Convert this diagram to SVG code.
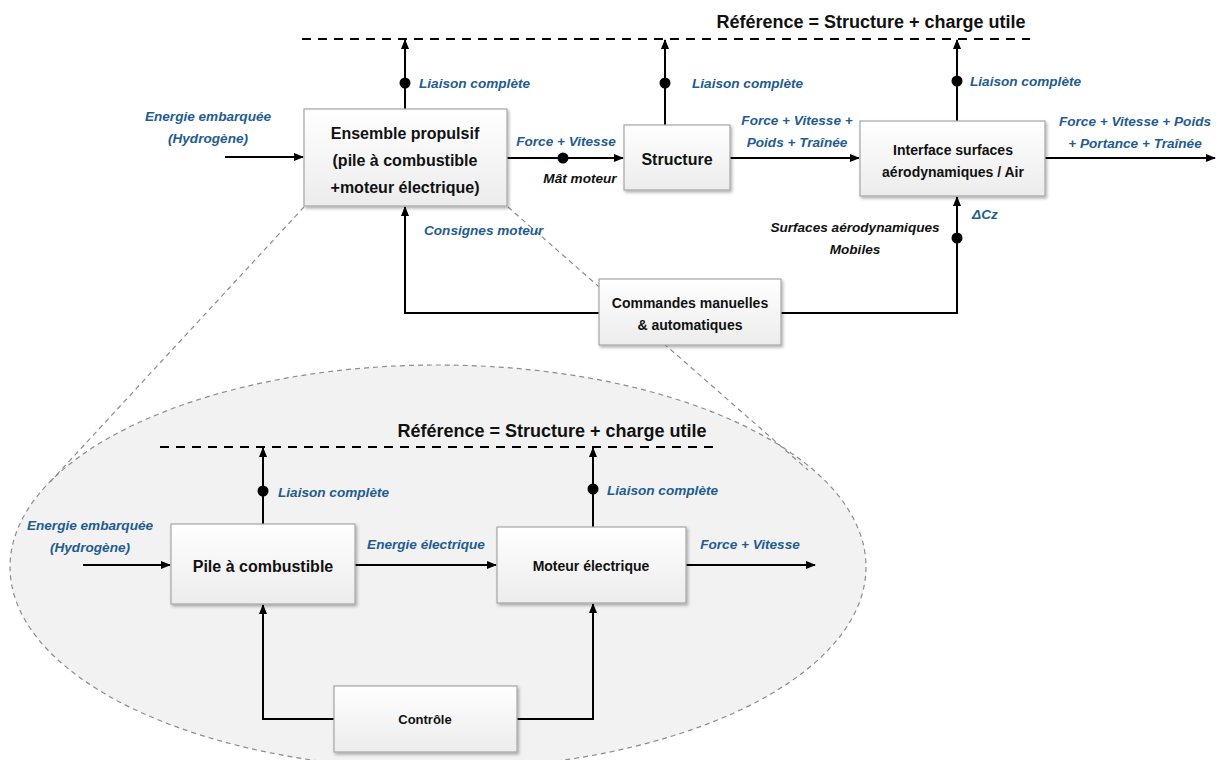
<svg xmlns="http://www.w3.org/2000/svg" width="1220" height="760" viewBox="0 0 1220 760">
<style>
.box{fill:url(#g);stroke:#a6a6a6;stroke-width:1.2;filter:url(#sh)}
.bt{font-family:"Liberation Sans",Arial,sans-serif;font-weight:bold;fill:#111;text-anchor:middle}
.lb{font-family:"Liberation Sans",Arial,sans-serif;font-weight:bold;font-style:italic;font-size:13.6px;fill:#1f5c8f}
.lk{font-family:"Liberation Sans",Arial,sans-serif;font-weight:bold;font-style:italic;font-size:13.6px;fill:#111}
.ti{font-family:"Liberation Sans",Arial,sans-serif;font-weight:bold;font-size:18px;fill:#111}
.ln{fill:none;stroke:#000;stroke-width:2}
.ar{fill:none;stroke:#000;stroke-width:2;marker-end:url(#ah)}
.dl{fill:none;stroke:#000;stroke-width:2.2;stroke-dasharray:9 7}
.zl{fill:none;stroke:#8c8c8c;stroke-width:1.2;stroke-dasharray:5 4}
.dot{fill:#000}
</style>
<defs>
<linearGradient id="g" x1="0" y1="0" x2="0" y2="1"><stop offset="0" stop-color="#ffffff"/><stop offset="1" stop-color="#ececec"/></linearGradient>
<filter id="sh" x="-10%" y="-10%" width="125%" height="130%"><feDropShadow dx="1.5" dy="2" stdDeviation="1.5" flood-color="#000" flood-opacity="0.3"/></filter>
<marker id="ah" markerWidth="10" markerHeight="10" refX="9" refY="5" orient="auto" markerUnits="userSpaceOnUse"><path d="M0,1 L10,5 L0,9 z" fill="#000"/></marker>
</defs>
<rect width="1220" height="760" fill="#fff"/>
<g id="zoom-area">
<ellipse cx="438" cy="567" rx="428" ry="202" fill="#f2f2f2" stroke="#8c8c8c" stroke-width="1.2" stroke-dasharray="5 4"/>
<path class="zl" d="M304,207 L50,482"/>
<path class="zl" d="M508,207 L808,470"/>
</g>
<g id="references">
<path class="dl" d="M302,39 L1030,39"/>
<text class="ti" x="871" y="28" text-anchor="middle">Référence = Structure + charge utile</text>
<path class="dl" d="M160,447 L718,447"/>
<text class="ti" x="552" y="437" text-anchor="middle">Référence = Structure + charge utile</text>
</g>
<g id="connectors">
<path class="ar" d="M405,109 L405,40"/>
<circle class="dot" cx="405" cy="83" r="5.5"/>
<path class="ar" d="M665,125 L665,40"/>
<circle class="dot" cx="665" cy="83" r="5.5"/>
<path class="ar" d="M957,121 L957,40"/>
<circle class="dot" cx="957" cy="81" r="5.5"/>
<path class="ar" d="M225,157 L303,157"/>
<path class="ar" d="M507,158 L623,158"/>
<circle class="dot" cx="563" cy="158" r="5.5"/>
<path class="ar" d="M730,158 L859,158"/>
<path class="ar" d="M1045,158 L1215,158"/>
<path class="ar" d="M599,313 L405,313 L405,207"/>
<path class="ar" d="M781,313 L957,313 L957,197"/>
<circle class="dot" cx="957" cy="238" r="5.5"/>
<path class="ar" d="M263,524 L263,448"/>
<circle class="dot" cx="263" cy="491" r="5.5"/>
<path class="ar" d="M593,527 L593,448"/>
<circle class="dot" cx="593" cy="489" r="5.5"/>
<path class="ar" d="M83,565 L170,565"/>
<path class="ar" d="M355,565 L496,565"/>
<path class="ar" d="M686,565 L815,565"/>
<path class="ar" d="M334,719 L263,719 L263,605"/>
<path class="ar" d="M517,719 L593,719 L593,604"/>
</g>
<g id="labels">
<text class="lb" x="419" y="88">Liaison complète</text>
<text class="lb" x="692" y="88">Liaison complète</text>
<text class="lb" x="970" y="86">Liaison complète</text>
<text class="lb" x="208" y="121" text-anchor="middle">Energie embarquée</text>
<text class="lb" x="208" y="143" text-anchor="middle">(Hydrogène)</text>
<text class="lb" x="566" y="146" text-anchor="middle">Force + Vitesse</text>
<text class="lk" x="580" y="183" text-anchor="middle">Mât moteur</text>
<text class="lb" x="797" y="125" text-anchor="middle">Force + Vitesse +</text>
<text class="lb" x="797" y="147" text-anchor="middle">Poids + Traînée</text>
<text class="lb" x="1135" y="126" text-anchor="middle">Force + Vitesse + Poids</text>
<text class="lb" x="1135" y="148" text-anchor="middle">+ Portance + Traînée</text>
<text class="lb" x="424" y="235">Consignes moteur</text>
<text class="lb" x="972" y="219">ΔCz</text>
<text class="lk" x="855" y="232" text-anchor="middle">Surfaces aérodynamiques</text>
<text class="lk" x="855" y="254" text-anchor="middle">Mobiles</text>
<text class="lb" x="278" y="497">Liaison complète</text>
<text class="lb" x="607" y="495">Liaison complète</text>
<text class="lb" x="90" y="530" text-anchor="middle">Energie embarquée</text>
<text class="lb" x="90" y="552" text-anchor="middle">(Hydrogène)</text>
<text class="lb" x="426" y="549" text-anchor="middle">Energie électrique</text>
<text class="lb" x="750" y="549" text-anchor="middle">Force + Vitesse</text>
</g>
<g id="ensemble-propulsif">
<rect class="box" x="304" y="109" width="203" height="97"/>
<text class="bt" font-size="16" x="405" y="139">Ensemble propulsif</text>
<text class="bt" font-size="16" x="405" y="166">(pile à combustible</text>
<text class="bt" font-size="16" x="405" y="193">+moteur électrique)</text>
</g>
<g id="structure">
<rect class="box" x="624" y="125" width="106" height="65"/>
<text class="bt" font-size="16" x="677" y="165">Structure</text>
</g>
<g id="interface">
<rect class="box" x="860" y="121" width="185" height="75"/>
<text class="bt" font-size="14" x="953" y="155">Interface surfaces</text>
<text class="bt" font-size="14" x="953" y="177">aérodynamiques / Air</text>
</g>
<g id="commandes">
<rect class="box" x="599" y="279" width="182" height="66"/>
<text class="bt" font-size="14" x="690" y="308">Commandes manuelles</text>
<text class="bt" font-size="14" x="690" y="330">&amp; automatiques</text>
</g>
<g id="pile">
<rect class="box" x="171" y="524" width="184" height="80"/>
<text class="bt" font-size="16" x="263" y="572">Pile à combustible</text>
</g>
<g id="moteur">
<rect class="box" x="497" y="527" width="189" height="76"/>
<text class="bt" font-size="14" x="591" y="571">Moteur électrique</text>
</g>
<g id="controle">
<rect class="box" x="334" y="686" width="183" height="66"/>
<text class="bt" font-size="13" x="425" y="724">Contrôle</text>
</g>
</svg>
